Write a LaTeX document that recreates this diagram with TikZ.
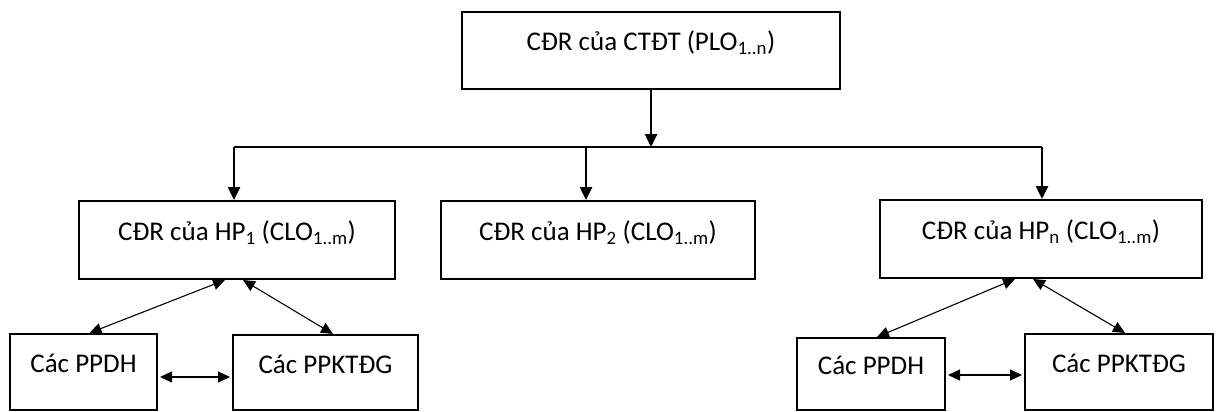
\documentclass[tikz,border=0pt]{standalone}
\usepackage{fontspec}
\setmainfont{Carlito}
\usetikzlibrary{arrows.meta,calc}
\begin{document}
\begin{tikzpicture}[x=1pt,y=-1pt,
  box/.style={draw=black, line width=2pt, rectangle, inner sep=0pt,
    font=\fontsize{27}{32}\selectfont, text height=18pt, text depth=17pt, align=center},
  tree/.style={draw=black, line width=2.5pt},
  treearrow/.style={tree, -{Triangle[length=13pt,width=12pt]}},
  dbl/.style={draw=black, line width=1.1pt, {Triangle[length=12pt,width=11pt]}-{Triangle[length=12pt,width=11pt]}}
]
\useasboundingbox (0,0) rectangle (1219,412);
\node[box, minimum width=378pt, minimum height=77pt] (top) at (651,50.5) {CĐR của CTĐT (PLO\textsubscript{1..n})};
\node[box, minimum width=316pt, minimum height=78pt] (hp1) at (237,240) {CĐR của HP\textsubscript{1} (CLO\textsubscript{1..m})};
\node[box, minimum width=314pt, minimum height=78pt] (hp2) at (598,240) {CĐR của HP\textsubscript{2} (CLO\textsubscript{1..m})};
\node[box, minimum width=322pt, minimum height=78pt] (hpn) at (1041,239) {CĐR của HP\textsubscript{n} (CLO\textsubscript{1..m})};
\node[box, minimum width=147pt, minimum height=76pt] (ppdh1) at (83.5,372) {Các PPDH};
\node[box, minimum width=185pt, minimum height=75pt] (ppk1) at (325.5,372.5) {Các PPKTĐG};
\node[box, minimum width=148pt, minimum height=72pt] (ppdh2) at (871,374) {Các PPDH};
\node[box, minimum width=188pt, minimum height=76pt] (ppk2) at (1119,372) {Các PPKTĐG};
\coordinate (hub) at (651,147);
\coordinate (c1) at (234,147);
\coordinate (c2) at (586,147);
\coordinate (c3) at (1042,147);
\draw[treearrow] (top.south) -- (hub);
\draw[tree] (c1) -- (c3);
\draw[treearrow] (c1) -- (c1 |- hp1.north);
\draw[treearrow] (c2) -- (c2 |- hp2.north);
\draw[treearrow] (c3) -- (c3 |- hpn.north);
\draw[dbl] ($(hp1.south)+(-12,0)$) -- ($(ppdh1.north)+(6,0)$);
\draw[dbl] ($(hp1.south)+(6,0)$) -- ($(ppk1.north)+(7.5,0)$);
\draw[dbl, shorten <=2pt, shorten >=2pt] ($(ppdh1.east)+(0,5)$) -- ($(ppk1.west)+(0,4.5)$);
\draw[dbl] ($(hpn.south)+(-26,0)$) -- ($(ppdh2.north)+(6,0)$);
\draw[dbl] ($(hpn.south)+(-8,0)$) -- ($(ppk2.north)+(6,0)$);
\draw[dbl, shorten <=2pt, shorten >=2pt] ($(ppdh2.east)+(0,1)$) -- ($(ppk2.west)+(0,3)$);
\end{tikzpicture}
\end{document}
